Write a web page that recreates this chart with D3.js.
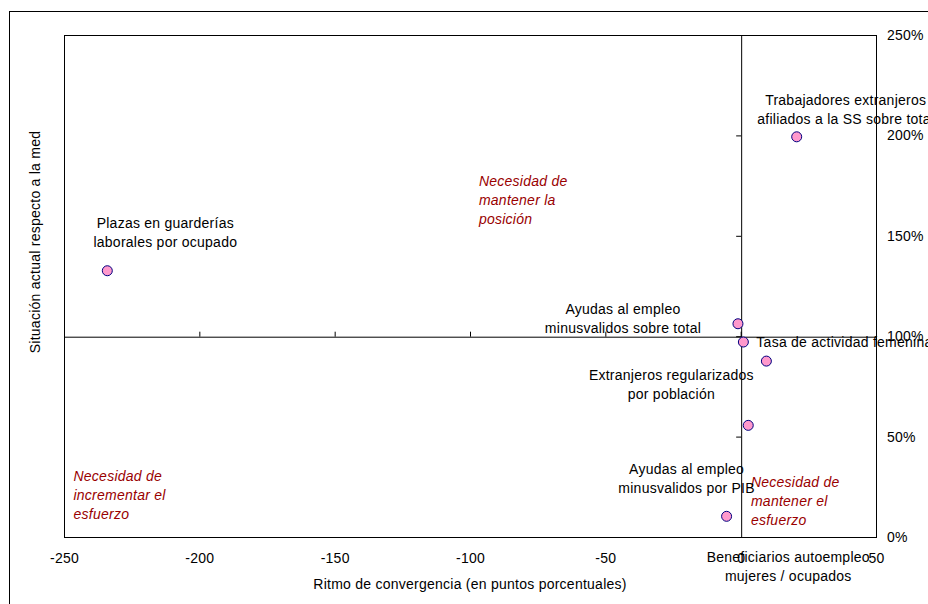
<!DOCTYPE html>
<html><head><meta charset="utf-8">
<script src="https://cdn.jsdelivr.net/npm/d3@7"></script>
<style>
html,body{margin:0;padding:0;background:#fff;overflow:hidden}
text{font-family:"Liberation Sans",Arial,sans-serif;letter-spacing:0.25px}
</style></head>
<body>
<svg id="chart" width="928" height="604"></svg>
<script>
// ---- data ----
const pointLabels = [
  ["Plazas en guarderías","laborales por ocupado"],
  ["Trabajadores extranjeros","afiliados a la SS sobre total"],
  ["Ayudas al empleo","minusvalidos sobre total"],
  ["Tasa  de actividad femenina"],
  ["Extranjeros regularizados","por población"],
  ["Beneficiarios autoempleo","mujeres / ocupados"],
  ["Ayudas al empleo","minusvalidos por PIB"]
];
const xValues = [-234, 20.7, -1.0, 1.0, 9.5, 2.8, -5.2];
const yValues = [132.6, 199.3, 106.2, 97.1, 87.6, 55.6, 10.3];
const xTicks = [-250, -200, -150, -100, -50, 0, 50];
const yTicks = [0, 50, 100, 150, 200, 250];
const quadrantTexts = [
  ["Necesidad de","mantener la","posición"],
  ["Necesidad de","incrementar el","esfuerzo"],
  ["Necesidad de","mantener el","esfuerzo"]
];
const xTitle = "Ritmo de convergencia (en puntos porcentuales)";
const yTitle = "Situación actual respecto a la med";

// ---- layout ----
const labelLayout = [ // pixel offsets of label anchor from the point, anchor type
  {dx:58, dy:-48, anchor:"middle"},
  {dx:49, dy:-37, anchor:"middle"},
  {dx:-115, dy:-15, anchor:"middle"},
  {dx:13, dy:0, anchor:"start"},
  {dx:-95, dy:14, anchor:"middle"},
  {dx:40, dy:132, anchor:"middle"},
  {dx:-40, dy:-47, anchor:"middle"}
];
const quadrantPos = [ {x:-96.7, y:177.5}, {x:-246.5, y:30.3}, {x:3.8, y:27.5} ]; // data coords of first line
const lineH = 19;
const FS = 14;

const svg = d3.select("#chart");
const L = 64, R = 876, T = 35, B = 537;
const x = d3.scaleLinear().domain([-250, 50]).range([L, R]);
const y = d3.scaleLinear().domain([0, 250]).range([B, T]);

// outer frame
svg.append("rect").attr("x", 9.5).attr("y", 11.5).attr("width", 1000).attr("height", 700)
  .attr("fill", "none").attr("stroke", "#000").attr("stroke-width", 1);

// plot area border
svg.append("rect").attr("x", L + 0.5).attr("y", T + 0.5).attr("width", R - L).attr("height", B - T)
  .attr("fill", "none").attr("stroke", "#000").attr("stroke-width", 1);

// horizontal axis at 100%
const xAxisMid = svg.append("g").attr("transform", `translate(0,${y(100) + 0.5})`)
  .call(d3.axisTop(x).tickValues(xTicks).tickSize(5).tickFormat(""));
xAxisMid.select(".domain").attr("stroke", "#000");

// vertical axis at 0
const yAxisMid = svg.append("g").attr("transform", `translate(${x(0) + 0.5},0)`)
  .call(d3.axisLeft(y).tickValues(yTicks).tickSize(5).tickFormat(""));
yAxisMid.select(".domain").attr("stroke", "#000");

// bottom tick labels
const xLab = svg.append("g").attr("transform", `translate(0,${B})`)
  .call(d3.axisBottom(x).tickValues(xTicks).tickSize(0).tickPadding(16).tickFormat(d => String(d)));
xLab.select(".domain").remove();
xLab.selectAll("text").attr("font-size", FS).attr("fill", "#000")
  .attr("font-family", '"Liberation Sans",Arial,sans-serif');

// right tick labels
const yLab = svg.append("g").attr("transform", `translate(${R},0)`)
  .call(d3.axisRight(y).tickValues(yTicks).tickSize(0).tickPadding(11).tickFormat(d => d + "%"));
yLab.select(".domain").remove();
yLab.selectAll("text").attr("font-size", FS).attr("fill", "#000")
  .attr("font-family", '"Liberation Sans",Arial,sans-serif');

// axis titles
svg.append("text").attr("x", 470).attr("y", 589).attr("text-anchor", "middle")
  .attr("font-size", FS).text(xTitle);
svg.append("text").attr("transform", "translate(40,242) rotate(-90)").attr("text-anchor", "middle")
  .attr("font-size", FS).text(yTitle);

// quadrant annotations
quadrantTexts.forEach((lines, i) => {
  const t = svg.append("text").attr("font-size", FS).attr("font-style", "italic")
    .attr("fill", "#990000");
  lines.forEach((s, j) => {
    t.append("tspan").attr("x", x(quadrantPos[i].x)).attr("y", y(quadrantPos[i].y) + j * lineH + 5).text(s);
  });
});

// points
const pts = xValues.map((v, i) => ({x: v, y: yValues[i], lab: pointLabels[i], lay: labelLayout[i]}));
svg.append("g").selectAll("circle").data(pts).join("circle")
  .attr("cx", d => x(d.x)).attr("cy", d => y(d.y)).attr("r", 5)
  .attr("fill", "#FF99CC").attr("stroke", "#000080").attr("stroke-width", 1);

// point labels
pts.forEach(d => {
  const t = svg.append("text").attr("font-size", FS).attr("fill", "#000")
    .attr("text-anchor", d.lay.anchor);
  d.lab.forEach((s, j) => {
    t.append("tspan").attr("x", x(d.x) + d.lay.dx)
      .attr("y", y(d.y) + d.lay.dy + j * lineH + 5).text(s);
  });
});
</script>
</body></html>
